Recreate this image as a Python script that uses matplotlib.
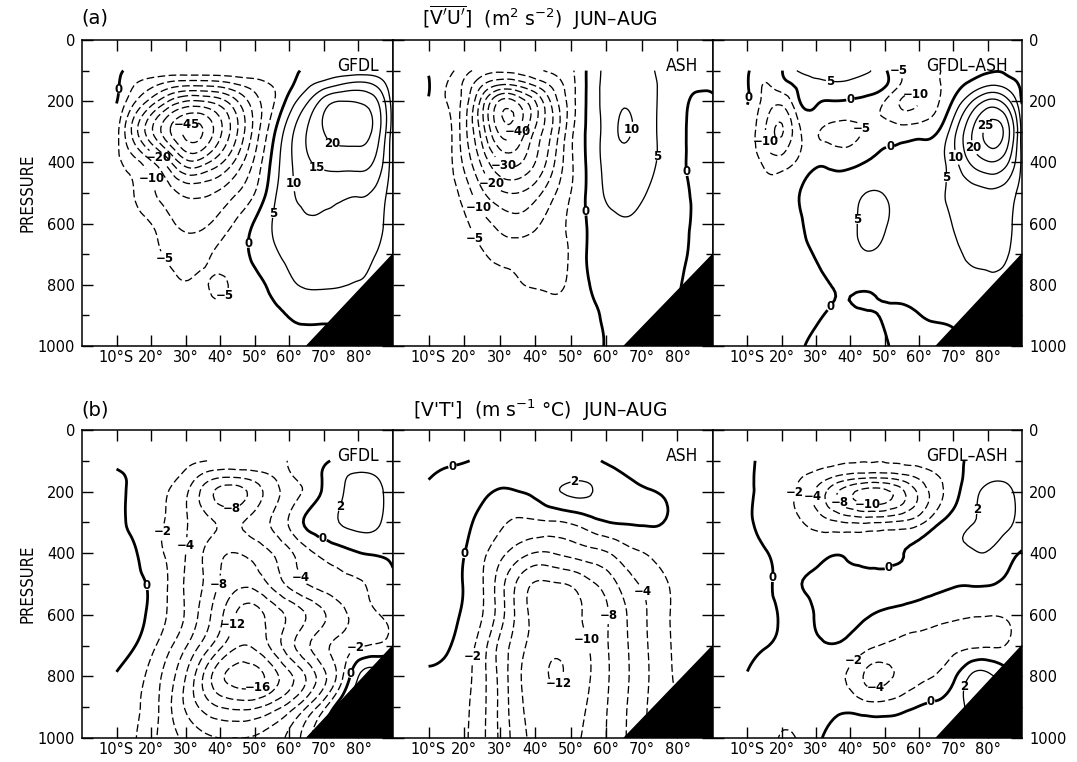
import numpy as np
import matplotlib
matplotlib.use("Agg")
import matplotlib.pyplot as plt
import matplotlib.tri as mtri
from matplotlib import font_manager

plt.rcParams["font.family"] = ["DejaVu Sans"]
plt.rcParams["mathtext.fontset"] = "dejavusans"
plt.rcParams["lines.scale_dashes"] = False

# narrow face for PRESSURE and the panel tags, if there is one
faces = font_manager.fontManager.ttflist
if any(f.name == "DejaVu Sans" and f.stretch == "condensed" for f in faces):
    narrow = dict(family="DejaVu Sans", stretch="condensed")
elif any(f.name == "Liberation Sans Narrow" for f in faces):
    narrow = dict(family="Liberation Sans Narrow")
else:
    narrow = dict(family="DejaVu Sans")

# ---- grid the values were read on (deg S, hPa) ----
lats = [10, 15, 20, 25, 30, 35, 40, 45, 50, 55, 60, 65, 70, 75, 80, 85, 90]
pres = [100, 150, 200, 300, 400, 500, 600, 700, 800, 900, 1000]

# [v'u'] m2 s-2, one row per pressure level
vu_gfdl = [
    [1, -1, -1, -1, -1, -1, -1, -1, -1, -1.5, -1, 0.5, 1, 2, 2, 2, 0.5],
    [1, -5, -9, -13, -15, -15, -14, -11, -8, -5, -1, 4, 8, 11, 12.5, 10, 1],
    [0.3, -9, -17, -25, -30, -30, -27, -20, -12, -6, 2, 9, 17, 20, 19.5, 16, 2],
    [-3, -17, -29, -39, -46, -45, -36, -25, -13, -2, 8, 15, 20, 22, 22, 18, 2],
    [-4, -8, -14, -23, -33, -32, -26, -18, -9, 1, 9, 14, 16.5, 17, 17, 14, 2],
    [-3, -5, -9, -13, -16, -16, -14, -10, -5, 3, 9, 11, 11, 10.8, 10.5, 9, 1.5],
    [-2, -3, -5, -8.5, -11.5, -11, -8, -4, 0.5, 5, 8, 9.5, 9.5, 9, 8.5, 7, 1.5],
    [-1.5, -2.5, -4, -5.5, -6.5, -6, -4, -2, 1, 4, 6, 7, 7, 6.5, 6, 5, 1],
    [-1, -1.5, -2.5, -4, -4.8, -4.6, -5.6, -3.5, -1.5, 1.2, 4, 5.5, 5.5, 5.2, 4.8, 4, 1],
    [-0.5, -1, -1.5, -2.5, -3, -3, -3.5, -2.5, -1.5, -1, 0.2, 1, 1, 1, 1, 1, 0.5],
    [-0.5, -0.5, -1, -1.5, -2, -2, -2, -1.5, -1.5, -1, -1, -1, -1, -1, -1, -1, -0.5],
]
vu_ash = [
    [-0.3, -3, -8, -12, -14, -13, -11, -9, -6, 1, 6, 7, 6.5, 4, 1, 1.5, 0.5],
    [0.3, -5, -11, -20, -26, -25, -20, -14, -7, 1, 6.5, 8, 7.5, 4.5, 1.5, 0.5, 0.3],
    [-0.3, -5, -12, -27, -40.5, -39, -30, -18, -7.5, 1, 7, 9.5, 8, 4.5, 1.5, -0.5, -0.3],
    [-0.5, -2.5, -13, -27, -41, -40, -29, -19, -6.5, 1, 7, 10.5, 8, 4.5, 1.5, -1, -0.5],
    [-0.5, -2.5, -11, -21, -30, -31, -25, -16, -6, 1, 6.5, 8.5, 7, 4.5, 1.5, -1, -0.5],
    [-0.5, -2, -7, -14, -19, -20, -17, -11, -5, 1, 5.5, 6.5, 5.5, 3.5, 1.5, -0.5, -0.5],
    [-0.5, -1.5, -4, -8, -11.5, -13, -11, -7.5, -4, 0.5, 3.5, 4.5, 3.5, 2.5, 1.5, -0.5, -0.5],
    [-0.5, -1, -2.5, -4.5, -6.5, -7, -7, -6, -4.5, 0.5, 2, 2.5, 2, 1.5, 0.8, -0.5, -0.5],
    [-0.3, -0.5, -1, -2, -3, -4.5, -5.3, -5.6, -4, -0.2, 1.5, 1.5, 1, 0.8, 0.2, -0.5, -0.5],
    [-0.2, -0.3, -0.5, -1, -1.5, -2, -2.5, -3, -2.5, -1, 0.5, 1, 0.5, 0.3, 0.2, -0.3, -0.5],
    [-0.2, -0.3, -0.5, -0.8, -1, -1.5, -2, -2, -2, -1.5, 0.2, 0.5, 0.5, 0.2, 0.2, 0.2, 0.2],
]
vu_diff = [
    [0.5, -2.5, -0.3, 5.5, 7, 7.5, 7, 5.5, 1, -6, -7, -6, -2, -1.5, -0.5, -0.5, -2],
    [0.5, -5.3, -2.5, 1, 3.5, 4, 3.5, 2.5, 0.5, -6, -8, -6, -2, 1.5, 5, 4, -1],
    [0.5, -6.5, -8.5, -0.5, 1, -0.1, -0.5, -1.5, -5, -10.5, -10, -6, 0.5, 9, 16, 13, -0.5],
    [-3, -9.5, -15.5, -6, -4.5, -6, -6, -4, -2, -2.5, -2, -0.5, 8, 19, 26.5, 24, 3],
    [-2.5, -6, -7.5, -4, -1, -1.5, -1.5, 0.3, 1, 1.5, 2.5, 3, 8, 15.5, 19.5, 17, 4],
    [-1.5, -3, -2, -0.1, 1.5, 2.5, 3.8, 5.1, 4.8, 3.5, 3, 4, 6, 8, 9, 8, 3],
    [-1.5, -2.5, -2, -0.5, 1.5, 3, 4.2, 6, 5.3, 3.8, 3, 3.5, 5.2, 7, 7.5, 6.5, 2],
    [-1.5, -2, -1.8, -1, 0.3, 2, 3.5, 4.7, 4, 3, 2.5, 3, 4.2, 5.5, 6, 5.5, 2],
    [-1.5, -1.5, -1.5, -1.3, -0.8, 0.1, 0.5, 0.5, 1, 1.5, 2, 2.8, 3.5, 4, 4.2, 4, 1.5],
    [-1.5, -1.5, -1.3, -1, -0.4, 0.4, 0.4, 0.2, -0.2, -0.6, -0.1, 0.5, 0.8, 1.5, 2, 2, 1],
    [-1.5, -1.5, -1.2, -0.4, 0.8, 1.5, 2, 1.5, 0.4, -1, -1.5, -1, -0.5, 0.2, 0.5, 0.5, 0.5],
]

# [v't'] m s-1 C
vt_gfdl = [
    [-0.3, -0.5, -0.8, -1.1, -1.5, -1.9, -2.3, -2.6, -2.6, -2.4, -1.9, -1, -0.3, 0.5, 1, 1, 0.5],
    [0.3, -0.4, -1.2, -1.6, -2.5, -4.5, -5.6, -5.6, -5, -4, -2.3, -1.2, 0.2, 1.7, 2.2, 2, 1],
    [0.8, -0.6, -1.5, -2, -3.6, -6.5, -8.6, -8.8, -7, -5, -3, -1.6, 0.3, 1.8, 2.6, 2.4, 1.2],
    [0.6, -0.5, -1.5, -2.2, -3.8, -5.3, -6.2, -6.3, -5.2, -3.8, -1.8, 0.3, 1.2, 2.1, 2.5, 2.3, 1],
    [1.2, 0.3, -1.2, -2.3, -4, -6, -7.6, -8, -7.3, -6, -4.4, -2.6, -1.5, -0.8, -0.1, 0.2, 0.4],
    [1.8, 0.6, -0.3, -2.1, -4.2, -6, -8.2, -9.5, -9.3, -7.5, -5.5, -4, -3.2, -2.6, -2.2, -1.4, -0.2],
    [1.5, 0.6, -0.4, -2.2, -4.2, -6.8, -9.5, -12.3, -12.8, -11.2, -9.6, -7.9, -6.2, -4.6, -3.2, -2.2, -1.2],
    [0.8, 0.1, -1.4, -3.5, -5.8, -8.6, -11.5, -13.8, -13.6, -11.5, -8.8, -6.4, -4.5, -3.2, -2.2, -1.8, -1],
    [-0.1, -1, -2.7, -5, -8, -12, -15.5, -16.8, -16.8, -15, -12.5, -9.8, -6.5, -2.6, 2, 3, 2],
    [-0.6, -1.6, -3, -5.5, -8.2, -10.5, -12, -12.5, -12.3, -11, -9, -6, -2.5, 1.5, 3, 3, 2],
    [-0.8, -1.8, -3.5, -5, -6.5, -7.5, -8, -8, -7.8, -7, -5.5, -3, 0.5, 2, 3, 3, 2],
]
vt_ash = [
    [-0.5, -0.3, -0.1, 0.2, 0.4, 0.6, 0.7, 0.8, 0.8, 0.5, -0.2, -0.6, -0.8, -0.8, -0.7, -0.5, -0.4],
    [-0.1, 0.3, 0.5, 0.6, 0.7, 0.9, 1, 1.2, 1.5, 1.5, 0.8, 0.1, -0.5, -0.8, -0.8, -0.7, -0.6],
    [0.3, 0.5, 0.6, 0.4, -0.2, -0.05, 0.5, 1.6, 2.3, 2.2, 1.3, 0.8, 0.3, -0.1, -0.6, -0.7, -0.7],
    [0.7, 0.6, 0.3, -0.5, -1.6, -2.3, -2.3, -2.2, -1.8, -0.9, -0.1, 0.15, 0.2, 0.1, -0.5, -0.8, -0.9],
    [1.2, 0.9, 0.05, -1.5, -3.3, -5, -6.1, -6, -5.4, -4.8, -4.2, -2.9, -2.1, -1.3, -0.8, -0.6, -0.5],
    [1.5, 1, -0.1, -1.8, -5, -8.3, -10.2, -10.2, -9.8, -8.5, -7.2, -5.2, -3.8, -2.6, -1.5, -1, -0.8],
    [1.3, 0.8, -0.3, -1.9, -5, -8.5, -10.6, -11.3, -10.9, -9.5, -8.2, -6.3, -4.5, -2.8, -1.6, -1.1, -0.9],
    [0.8, 0.3, -1, -3, -6.5, -9, -11, -11.7, -11.3, -10, -8.2, -6.4, -4.6, -2.9, -1.6, -1, -0.8],
    [-0.3, -0.6, -1.4, -3.3, -6.5, -9.5, -11.3, -12.1, -11.6, -10.2, -8.3, -6.5, -4.7, -3, -1.7, -1, -0.8],
    [-0.5, -0.8, -1.6, -3.4, -6.4, -9.3, -11, -11.6, -11, -9.8, -8.1, -6.3, -4.5, -3, -2, -1.2, -1],
    [-0.6, -0.9, -1.7, -3.5, -6.3, -9, -10.6, -11, -10.5, -9.5, -8, -6.2, -4.5, -3, -2, -1.2, -1],
]
vt_diff = [
    [0.3, -0.3, -0.6, -0.9, -1.2, -1.5, -1.8, -1.9, -1.9, -1.7, -1.4, -1, -0.5, 0.3, 0.8, 0.8, 0.5],
    [0.3, -0.4, -1, -1.8, -2.6, -3.8, -4.8, -5.2, -5.2, -4.6, -3.5, -2.2, -0.8, 0.6, 1.5, 1.6, 1],
    [0.2, -0.4, -1.3, -2.3, -4.3, -7.2, -9.5, -10.8, -10.5, -8.5, -5.5, -3, -0.8, 1.2, 2.4, 2.5, 1],
    [0.1, -0.3, -1, -1.8, -2.7, -3.6, -4.1, -4.2, -4, -3.6, -2.6, -0.5, 1, 1.9, 2.4, 2.5, 1.2],
    [0.4, 0.1, -0.5, -0.9, -0.7, -0.1, -0.3, -0.5, -0.4, -0.05, 0.5, 1, 1.5, 1.8, 1.9, 0.8, -0.1],
    [0.9, 0.4, -0.3, -0.1, 0.4, 0.6, 0.7, 0.7, 0.6, 0.5, 0.4, 0.3, 0.15, 0.1, 0.1, -0.2, -0.4],
    [0.9, 0.5, -0.2, -0.6, 0.1, 0.4, 0.4, 0.1, -0.3, -0.6, -0.9, -1.3, -1.6, -1.8, -1.9, -1.8, -1],
    [0.5, 0.1, -0.4, -0.7, -0.4, -0.1, -0.6, -1.5, -2.2, -2.6, -2.6, -2.5, -2.4, -2.3, -2.2, -2, -1.2],
    [-0.1, -0.8, -1.3, -1.6, -1.8, -1.9, -2.4, -4.5, -4.5, -3.5, -2.5, -1.9, -0.5, 2.2, 2.5, 1, -0.5],
    [-0.6, -1.2, -1.8, -1.6, -1.1, -0.7, -0.5, -1.1, -1.1, -0.6, 0.1, 0.5, 1.2, 2.3, 2.4, 1.5, 0.5],
    [-0.8, -1.3, -2.1, -1.8, -0.3, 0.5, 1.2, 1.5, 1.3, 1, 1, 1.2, 1.5, 2, 2, 1.5, 0.5],
]

vu_levels = [-45, -40, -35, -30, -25, -20, -15, -10, -5, 0, 5, 10, 15, 20, 25]
vt_levels = [-16, -14, -12, -10, -8, -6, -4, -2, 0, 2]

# topography (black wedge)
ground_lat = [65, 90, 90]
ground_p = [1000, 700, 1000]

lat_ticks = [10, 20, 30, 40, 50, 60, 70, 80]
lat_labels = ["10°S", "20°", "30°", "40°", "50°", "60°", "70°", "80°"]
panel_names = ["GFDL", "ASH", "GFDL\u2013ASH"]

# where the contour numbers sit (level, lat, p)
marks = [
    [
        [(-45, 30, 272), (-20, 22, 389), (-10, 18.6, 459), (-5, 23, 724), (-5, 42, 840),
         (0, 10.5, 160), (0, 48.5, 665), (5, 55, 567), (10, 60.5, 470), (15, 67.6, 427),
         (20, 72, 345)],
        [(-40, 36.5, 310), (-30, 32, 394), (-20, 28.6, 459), (-10, 24.3, 546), (-5, 23, 648),
         (0, 54, 560), (0, 83, 430), (5, 72.9, 378), (10, 66, 290)],
        [(0, 11, 190), (0, 40, 194), (0, 51.7, 376), (0, 35.5, 883), (-10, 15.5, 333),
         (-10, 59, 182), (-5, 44, 290), (-5, 51, 113), (5, 34, 140), (5, 42.2, 587),
         (5, 68.4, 451), (10, 71.7, 381), (20, 74, 360), (25, 81.5, 290)],
    ],
    [
        [(0, 19, 505), (0, 70, 344), (2, 75, 250), (-2, 24.3, 333), (-2, 79, 700),
         (-4, 30, 376), (-4, 64.3, 473), (-8, 43.3, 231), (-8, 39.5, 500), (-12, 46.2, 640),
         (-16, 49.5, 812), (0, 77.5, 790)],
        [(0, 17, 132), (0, 20, 402), (2, 51.4, 186), (-2, 23.3, 737), (-4, 70, 527),
         (-8, 60.5, 602), (-10, 54.8, 678), (-12, 47, 824)],
        [(0, 19.3, 481), (0, 50.8, 437), (0, 63.2, 869), (-2, 24.1, 205), (-2, 42.2, 761),
         (-4, 28.9, 216), (-4, 47, 812), (-8, 36.5, 238), (-10, 45, 238), (2, 80, 260),
         (2, 74.6, 837)],
    ],
]

# ---- triangulated grid, refined with the cubic interpolator ----
LAT, P = np.meshgrid(lats, pres)
nx, ny = len(lats), len(pres)
tris = []
for j in range(ny - 1):
    for i in range(nx - 1):
        a = j * nx + i
        tris.append([a, a + 1, a + nx])
        tris.append([a + 1, a + nx + 1, a + nx])
tri = mtri.Triangulation(LAT.ravel(), P.ravel(), tris)
refiner = mtri.UniformTriRefiner(tri)


def fmt(v):
    return f"{v:.0f}".replace("-", "\u2212")


W, H = 1077, 762
fig = plt.figure(figsize=(W / 100, H / 100), dpi=100)
edges = [82, 393, 713, 1022]
rows = [(40, 346), (430, 738)]
fields = [[vu_gfdl, vu_ash, vu_diff], [vt_gfdl, vt_ash, vt_diff]]
level_sets = [vu_levels, vt_levels]

for r, (y0, y1) in enumerate(rows):
    for c in range(3):
        x0, x1 = edges[c], edges[c + 1]
        ax = fig.add_axes([x0 / W, 1 - y1 / H, (x1 - x0) / W, (y1 - y0) / H])

        z = np.array(fields[r][c], float).ravel()
        rtri, rz = refiner.refine_field(z, subdiv=3)
        # one contour set per level, so each number lands on its own line
        for lev in level_sets[r]:
            if not rz.min() < lev < rz.max():
                continue
            style = "solid" if lev >= 0 else (0, (5.5, 2.5))
            cs = ax.tricontour(rtri, rz, levels=[lev], colors="k",
                               linestyles=[style],
                               linewidths=[2.0 if lev == 0 else 0.95])
            spots = [(x, y) for (l, x, y) in marks[r][c] if l == lev]
            if spots:
                texts = cs.clabel(manual=spots, inline=True, inline_spacing=1,
                                  fmt=fmt, fontsize=8.5)
                for t in texts:
                    t.set_rotation(0)
                    t.set_fontweight("bold")

        ax.fill(ground_lat, ground_p, color="k", zorder=3)

        ax.set_xlim(0, 90)
        ax.set_ylim(1000, 0)
        ax.set_xticks(lat_ticks)
        ax.set_xticklabels(lat_labels)
        ax.set_yticks(range(0, 1001, 200))
        ax.set_yticks(range(100, 1000, 200), minor=True)
        ax.tick_params(which="both", direction="in", top=True, right=True,
                       width=1, labelsize=10.5)
        ax.tick_params(which="major", length=8)
        ax.tick_params(which="minor", length=5)
        ax.tick_params(axis="x", pad=3)
        ax.tick_params(axis="y", pad=5, labelleft=(c == 0), labelright=(c == 2))
        for s in ax.spines.values():
            s.set_linewidth(1.1)

        ax.text(0.955, 0.915, panel_names[c], transform=ax.transAxes,
                ha="right", va="center", fontsize=12.5, **narrow)

    yc = 1 - (y0 + y1) / 2 / H
    fig.text(27 / W, yc, "PRESSURE", rotation=90, ha="center", va="center",
             fontsize=12, **narrow)

# row headings
fig.text(81 / W, 1 - 18 / H, "(a)", fontsize=14, ha="left", va="center")
fig.text(540 / W, 1 - 18 / H,
         r"$[\overline{\mathrm{V}'\mathrm{U}'}]$  (m$^2$ s$^{-2}$)  JUN" + "\u2013" + "AUG",
         fontsize=13.5, ha="center", va="center")
fig.text(81 / W, 1 - 410 / H, "(b)", fontsize=14, ha="left", va="center")
fig.text(540 / W, 1 - 410 / H, "[V'T']  (m s$^{-1}$ °C)  JUN\u2013AUG",
         fontsize=13.5, ha="center", va="center")

fig.savefig("out.png", dpi=100)
